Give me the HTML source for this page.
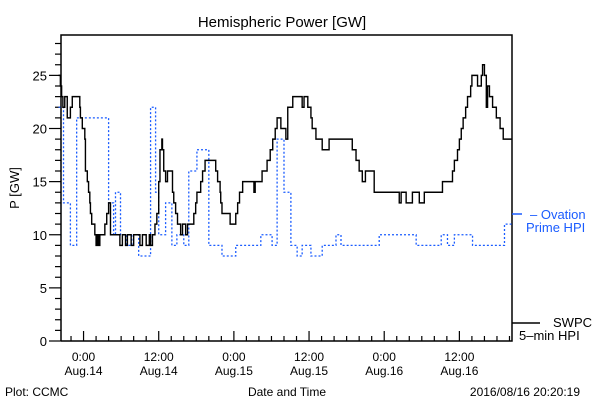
<!DOCTYPE html>
<html><head><meta charset="utf-8"><style>
html,body{margin:0;padding:0;background:#fff;}
svg{display:block;font-family:"Liberation Sans",sans-serif;}
</style></head><body>
<svg id="chart" width="600" height="400" viewBox="0 0 600 400">
<text x="282" y="27" text-anchor="middle" font-size="15">Hemispheric Power [GW]</text>
<text transform="translate(19,188) rotate(-90)" text-anchor="middle" font-size="13">P [GW]</text>
<text x="287" y="396" text-anchor="middle" font-size="12">Date and Time</text>
<text x="5" y="396" font-size="12">Plot: CCMC</text>
<text x="580" y="396" text-anchor="end" font-size="12">2016/08/16 20:20:19</text>
<g id="axes"></g>
<g id="series"></g>
<g>
<line x1="512" y1="214" x2="522" y2="214" stroke="#1a5cff" stroke-width="1.5"/>
<text x="530" y="219" font-size="13" fill="#1a5cff">– Ovation</text>
<text x="526" y="232" font-size="13" fill="#1a5cff">Prime HPI</text>
</g>
<g>
<line x1="512" y1="323" x2="540" y2="323" stroke="#000" stroke-width="1.5"/>
<text x="553" y="327" font-size="13">SWPC</text>
<text x="519" y="340" font-size="13">5–min HPI</text>
</g>
</svg>
<script>
const swpcTimes=[-4,-3.7,-3.5,-3.3,-3.0,-2.6,-2.1,-1.8,-0.6,-0.5,-0.2,0.2,0.3,0.6,0.8,1.0,1.1,1.3,1.8,2.0,2.2,2.4,2.6,3.4,3.7,4.0,4.3,5.8,6.2,6.7,7.0,7.6,8.0,9.0,9.4,10.0,10.5,10.7,11.0,11.4,11.7,12.0,12.2,12.5,12.6,12.8,13.1,13.4,14.2,14.4,14.7,15.0,15.5,15.8,16.3,16.6,17.6,17.9,18.1,18.7,19.0,19.4,21.1,21.4,21.8,21.9,22.1,23.4,24.3,24.6,24.9,25.4,27.2,27.4,28.5,29.3,29.8,30.2,30.6,30.9,31.5,32.3,32.6,33.4,34.9,35.2,35.8,36.3,36.5,37.1,38.1,39.2,42.9,43.5,44.0,44.5,45.0,46.4,50.4,50.7,51.5,52.5,53.6,54.4,57.3,58.9,59.2,59.7,60.0,60.3,60.6,61.0,61.3,61.8,62.0,62.9,63.5,63.7,64.0,64.3,64.5,64.8,65.3,65.9,66.5,67.0];
const swpcValues=[25,24,23,22,23,21,22,23,22,21,20,19,16,15,14,13,12,11,10,9,10,9,10,11,12,13,10,9,10,9,10,9,10,9,10,9,10,9,10,11,12,15,18,19,18,16,15,16,14,13,12,11,10,11,10,11,12,13,14,15,16,17,16,15,14,13,12,11,12,13,14,15,14,15,16,17,18,19,20,21,20,19,22,23,22,23,22,21,20,19,18,19,18,17,16,15,16,14,13,14,13,14,13,14,15,16,17,18,19,20,21,22,23,24,25,24,25,26,25,22,24,23,22,21,20,19];
const ovationTimes=[-4,-3.2,-2.1,-1.1,4.0,4.8,5.1,5.9,6.9,7.7,8.8,10.7,11.5,12.0,13.1,14.1,14.9,16.0,16.8,18.1,20.0,22.1,24.3,28.3,30.1,30.9,32.0,33.1,34.1,34.9,36.3,38.1,40.3,41.1,47.2,53.1,57.1,58.1,59.2,62.1,67.2];
const ovationValues=[22,13,9,21,13,10,14,10,9,10,8,22,14,10,13,9,10,9,16,18,9,8,9,10,9,19,14,9,8,9,8,9,10,9,10,9,10,9,10,9,11];
const yTickLabels=["0","5","10","15","20","25"];
const xTickHours=[0,12,24,36,48,60];
const xTickTimes=["0:00","12:00","0:00","12:00","0:00","12:00"];
const xTickDates=["Aug.14","Aug.14","Aug.15","Aug.15","Aug.16","Aug.16"];

const X0=-3.6,X1=68.4,PL=61,PR=512,PT=35,PB=341,YMAX=28.8;
const NS="http://www.w3.org/2000/svg";
function xs(h){return PL+(h-X0)/(X1-X0)*(PR-PL);}
function ys(v){return PB-v/YMAX*(PB-PT);}
function mk(tag,attrs,parent){const e=document.createElementNS(NS,tag);for(const k in attrs)e.setAttribute(k,attrs[k]);parent.appendChild(e);return e;}
const axes=document.getElementById('axes');
const series=document.getElementById('series');
const frame=mk('path',{d:`M${PL},${PB}V${PT}H${PR}V${PB}H${PL}`,fill:'none',stroke:'#000','stroke-width':1.5},axes);


for(let v=0;v<=28;v++){
  const y=ys(v);const major=v%5===0;
  const t=mk('line',{x1:major?PL-12:PL-6,y1:y,x2:PL,y2:y,stroke:'#000','stroke-width':1.2},axes);
  
  
  if(major){
    const l=mk('text',{x:PL-14,y:y+5,'text-anchor':'end','font-size':13},axes);
    l.textContent=yTickLabels[v/5];
    
    
  }
}
for(let h=-2;h<=68;h+=2){
  const x=xs(h);const major=h%12===0;
  const t=mk('line',{x1:x,y1:PB,x2:x,y2:major?PB-10:PB-5,stroke:'#000','stroke-width':1.2},axes);
  
  
}
xTickHours.forEach((h,i)=>{
  const x=xs(h);
  const a=mk('text',{x:x,y:361,'text-anchor':'middle','font-size':12},axes);
  a.textContent=xTickTimes[i];
  
  
  const b=mk('text',{x:x,y:375,'text-anchor':'middle','font-size':12},axes);
  b.textContent=xTickDates[i];
  
  
});
function stepPath(ts,vs){
  let d=`M${xs(ts[0])},${ys(vs[0])}`;
  for(let i=1;i<ts.length;i++){d+=`H${xs(ts[i])}V${ys(vs[i])}`;}
  d+=`H${PR}`;return d;
}
const ov=mk('path',{d:stepPath(ovationTimes,ovationValues),fill:'none',stroke:'#1a5cff','stroke-width':1.3,'stroke-dasharray':'2,2'},series);


const sw=mk('path',{d:stepPath(swpcTimes,swpcValues),fill:'none',stroke:'#000','stroke-width':1.4},series);


</script>
</body></html>
